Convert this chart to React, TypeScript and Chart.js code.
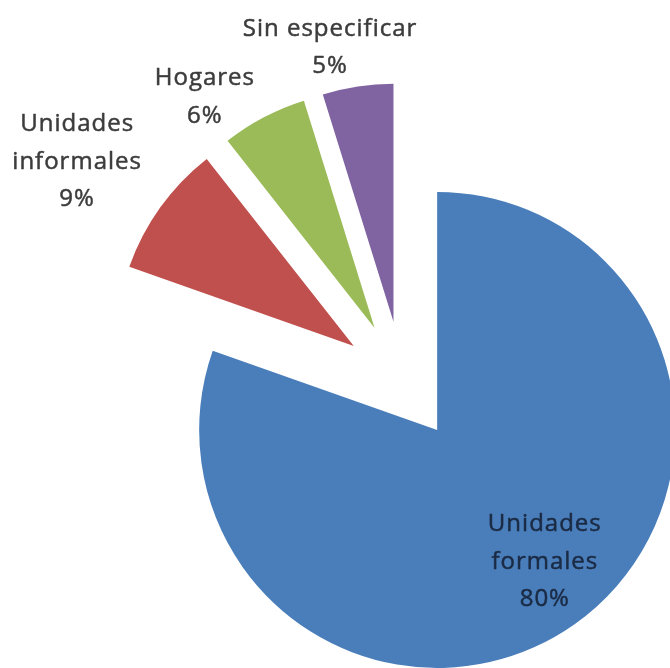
import React, { useEffect, useRef } from "react";
import { Chart, registerables } from "chart.js";

Chart.register(...registerables);

// ---- data ----
const categories: string[][] = [
  ["Unidades", "formales"],
  ["Unidades", "informales"],
  ["Hogares"],
  ["Sin especificar"],
];
const values: number[] = [80.4, 9.0, 5.8, 4.8];
const sliceColors: string[] = ["#4a7ebb", "#c0504d", "#9bbb59", "#8064a2"];

// ---- style / layout ----
const EXPLODE = 60; // px each slice is pulled out from the centre
const RADIUS = 238;
const labelColors: string[] = ["#1b2b44", "#3c3c3c", "#3c3c3c", "#3c3c3c"];
// label placement relative to each slice: radial factor and angle tweak (deg)
const labelRadial: number[] = [0.716, 1.396, 1.204, 1.181];
const labelAngleTweak: number[] = [-3.9, -2.0, -8.6, -4.4];
const FONT = "24px 'Open Sans'";
const LINE_H = 37.5;

const explodePlugin = {
  id: "explodeSlices",
  afterDatasetUpdate(chart: any, args: any) {
    const meta = args.meta;
    meta.data.forEach((arc: any) => {
      const mid = (arc.startAngle + arc.endAngle) / 2;
      arc.x += Math.cos(mid) * EXPLODE;
      arc.y += Math.sin(mid) * EXPLODE;
    });
  },
};

const labelPlugin = {
  id: "sliceLabels",
  afterDatasetsDraw(chart: any) {
    const ctx: CanvasRenderingContext2D = chart.ctx;
    const meta = chart.getDatasetMeta(0);
    const data = chart.data.datasets[0].data as number[];
    const total = data.reduce((a, b) => a + b, 0);
    ctx.save();
    ctx.font = FONT;
    (ctx as any).letterSpacing = "1px";
    ctx.textAlign = "center";
    ctx.textBaseline = "middle";
    ctx.lineWidth = 0.5;
    ctx.lineJoin = "round";
    meta.data.forEach((arc: any, i: number) => {
      const mid = (arc.startAngle + arc.endAngle) / 2;
      const a = mid + (labelAngleTweak[i] * Math.PI) / 180;
      const d = arc.outerRadius * labelRadial[i];
      const cx = arc.x + Math.cos(a) * d;
      const cy = arc.y + Math.sin(a) * d;
      const lines = [...(chart.data.labels[i] as string[]), `${Math.round((data[i] / total) * 100)}%`];
      const top = cy - ((lines.length - 1) * LINE_H) / 2;
      ctx.fillStyle = labelColors[i];
      ctx.strokeStyle = labelColors[i];
      lines.forEach((t, j) => {
        ctx.fillText(t, cx, top + j * LINE_H);
        ctx.strokeText(t, cx, top + j * LINE_H);
      });
    });
    ctx.restore();
  },
};

export default function App() {
  const ref = useRef<HTMLCanvasElement>(null);
  useEffect(() => {
    if (!ref.current) return;
    const chart = new Chart(ref.current, {
      type: "pie",
      data: {
        labels: categories as any,
        datasets: [
          {
            data: values,
            backgroundColor: sliceColors,
            borderWidth: 0,
            clip: false as any,
          },
        ],
      },
      options: {
        responsive: false,
        animation: false,
        events: [],
        radius: RADIUS,
        layout: { padding: { left: 135, top: 94, right: 0, bottom: 0 } },
        plugins: {
          legend: { display: false },
          tooltip: { enabled: false },
        },
      } as any,
      plugins: [explodePlugin, labelPlugin],
    });
    return () => chart.destroy();
  }, []);
  return (
    <div style={{ position: "fixed", left: 0, top: 0, width: 670, height: 668, background: "#fff" }}>
      <canvas ref={ref} width={670} height={668} />
    </div>
  );
}
